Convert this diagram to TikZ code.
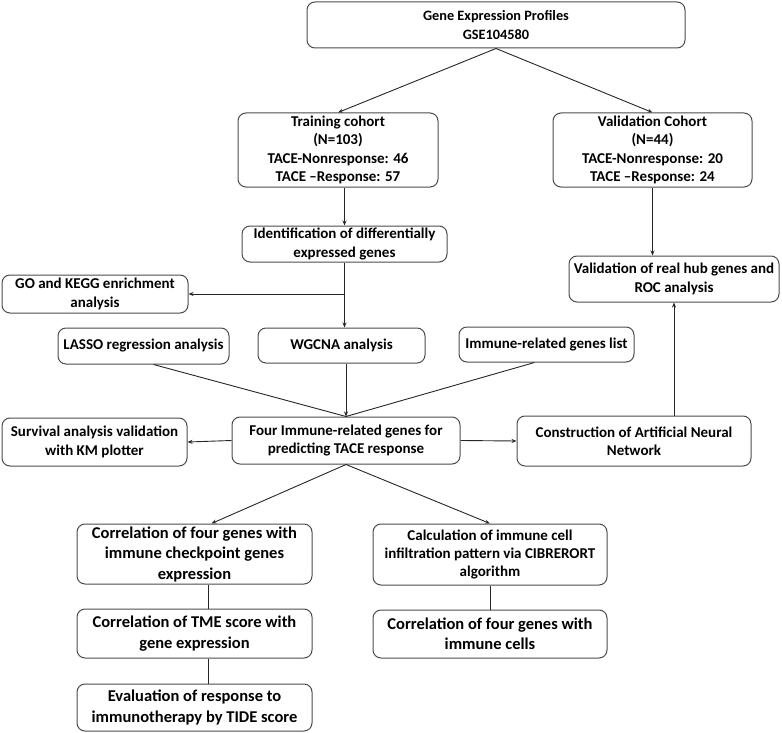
\documentclass[tikz,border=0pt]{standalone}
\usepackage{fontspec}
\setmainfont{Carlito}
\usetikzlibrary{arrows.meta}
\begin{document}
\begin{tikzpicture}[x=1pt,y=-1pt,
  box/.style={draw=black!70, line width=1pt, rounded corners=8pt, align=center, inner sep=0pt,
    font=\fontsize{15}{18.3}\selectfont\bfseries},
  big/.style={font=\fontsize{16.5}{20.5}\selectfont\bfseries},
  small/.style={font=\fontsize{14.3}{18.5}\selectfont\bfseries},
  arr/.style={-{Stealth[length=5pt,width=4pt]}, line width=0.9pt, draw=black!85},
  ln/.style={line width=0.9pt, draw=black!85}]
\useasboundingbox (0,0) rectangle (782,733);
\node[box, small, minimum width=378, minimum height=46] (top) at (496,25) {Gene Expression Profiles\\GSE104580};
\node[box, minimum width=200, minimum height=74] (train) at (338,150) {Training cohort\\(N=103)\\TACE-Nonresponse: 46\\TACE --Response: 57};
\node[box, minimum width=199, minimum height=74] (val) at (652.5,150) {Validation Cohort\\(N=44)\\TACE-Nonresponse: 20\\TACE --Response: 24};
\node[box, minimum width=205, minimum height=36] (ident) at (344.5,244) {Identification of differentially\\expressed genes};
\node[box, minimum width=186, minimum height=38] (go) at (95,294) {GO and KEGG enrichment\\analysis};
\node[box, minimum width=167, minimum height=35] (wgcna) at (341.5,345.5) {WGCNA analysis};
\node[box, minimum width=171, minimum height=36] (lasso) at (143.5,346) {LASSO regression analysis};
\node[box, minimum width=175, minimum height=35] (imm) at (546.5,344.5) {Immune-related genes list};
\node[box, minimum width=210, minimum height=46] (hub) at (674,279) {Validation of real hub genes and\\ROC analysis};
\node[box, minimum width=228, minimum height=47] (four) at (346,440.5) {Four Immune-related genes for\\predicting TACE response};
\node[box, minimum width=185, minimum height=48] (surv) at (94.5,442) {Survival analysis validation\\with KM plotter};
\node[box, minimum width=234, minimum height=50] (ann) at (634,441) {Construction of Artificial Neural\\Network};
\node[box, big, minimum width=235, minimum height=60] (corr1) at (194.5,554) {Correlation of four genes with\\immune checkpoint genes\\expression};
\node[box, minimum width=234, minimum height=61] (calc) at (490,554.5) {Calculation of immune cell\\infiltration pattern via CIBRERORT\\algorithm};
\node[box, big, minimum width=235, minimum height=49] (tme) at (194.5,633.5) {Correlation of TME score with\\gene expression};
\node[box, big, minimum width=235, minimum height=47] (eval) at (194.5,707.5) {Evaluation of response to\\immunotherapy by TIDE score};
\node[box, big, minimum width=234, minimum height=48] (cells) at (490,634) {Correlation of four genes with\\immune cells};
% connectors
\draw[arr] (top.south) -- (train.north);
\draw[arr] (top.south) -- (val.north);
\draw[arr] (train.south -| ident.north) -- (ident.north);
\draw[arr] (ident.south) -- (ident.south |- wgcna.north);
\draw[arr] (ident.south |- go.east) -- (go.east);
\draw[arr] (val.south) -- (val.south |- hub.north);
\draw[ln] ([xshift=10]lasso.south) -- (four.north);
\draw[ln] ([xshift=-12]imm.south) -- (four.north);
\draw[arr] (four.north |- wgcna.south) -- (four.north);
\draw[arr] (four.west) -- (surv.east);
\draw[arr] (four.east) -- (ann.west);
\draw[arr] (hub.south |- ann.north) -- (hub.south);
\draw[arr] (four.south) -- ([xshift=17]corr1.north);
\draw[arr] (four.south) -- (calc.north);
\draw[ln] ([xshift=14]corr1.south) -- ([xshift=14]tme.north);
\draw[ln] ([xshift=14]tme.south) -- ([xshift=14]eval.north);
\draw[ln] (calc.south) -- (cells.north);
\end{tikzpicture}
\end{document}
